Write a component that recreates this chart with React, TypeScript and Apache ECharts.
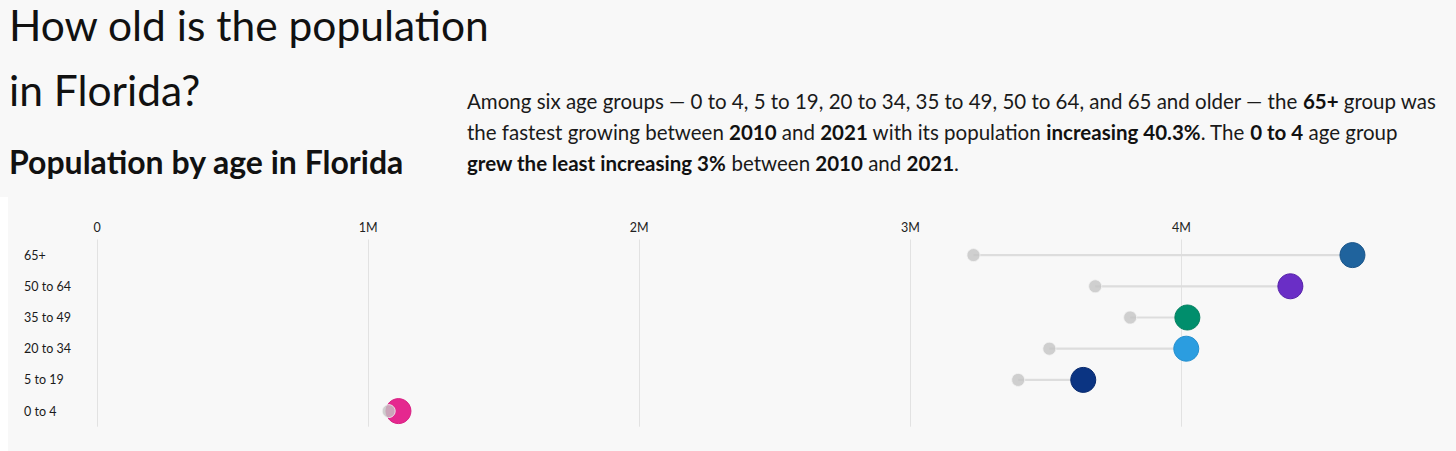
import React, { useEffect, useRef } from "react";
import * as echarts from "echarts";

const categories = ["0 to 4", "5 to 19", "20 to 34", "35 to 49", "50 to 64", "65+"];
const pop2010 = [1076000, 3398000, 3513000, 3811000, 3682000, 3233000];
const pop2021 = [1112000, 3638000, 4018000, 4022000, 4402000, 4631000];
const dotColors = ["#e5288f", "#0b3482", "#2b9de0", "#008e6c", "#6a2ec6", "#1f639d"];
const dotBorders = ["#d81f82", "#082a6e", "#2590cf", "#007f5e", "#5420a8", "#1a5589"];
const xTicks = [0, 1000000, 2000000, 3000000, 4000000];

const titleLines = ["How old is the population", "in Florida?"];
const subtitle = "Population by age in Florida";
const descLines = [
  "Among six age groups — 0 to 4, 5 to 19, 20 to 34, 35 to 49, 50 to 64, and 65 and older — the {b|65+} group was",
  "the fastest growing between {b|2010} and {b|2021} with its population {b|increasing 40.3%}. The {b|0 to 4} age group",
  "{b|grew the least increasing 3%} between {b|2010} and {b|2021}.",
];

const FONT = "Lato, 'Noto Sans', sans-serif";

function fmtTick(v: number): string {
  if (v === 0) return "0";
  if (v % 1000000 !== 0 || v > 4000000) return "";
  return v / 1000000 + "M";
}

export default function App() {
  const ref = useRef<HTMLDivElement>(null);
  useEffect(() => {
    document.body.style.margin = "0";
    document.body.style.background = "#ffffff";
    const chart = echarts.init(ref.current as HTMLDivElement, undefined, { renderer: "svg" });
    const descSize = 20.5;
    chart.setOption({
      animation: false,
      backgroundColor: "#f8f8f8",
      graphic: [
        { type: "rect", shape: { x: 0, y: 197, width: 8, height: 254 }, style: { fill: "#ffffff" }, silent: true },
        ...titleLines.map((t, i) => ({
          type: "text",
          x: 9,
          y: [24, 89][i],
          style: { text: t, fontSize: 42.5, fontFamily: FONT, fontWeight: "normal", fill: "#111111", verticalAlign: "middle", align: "left" },
        })),
        {
          type: "text",
          x: 9,
          y: 161,
          style: { text: subtitle, fontSize: 32, fontFamily: FONT, fontWeight: "bold", fill: "#111111", verticalAlign: "middle", align: "left" },
        },
        ...descLines.map((t, i) => ({
          type: "text",
          x: 467,
          y: [101, 132, 163][i],
          style: {
            text: t,
            fontSize: descSize,
            fontFamily: FONT,
            fill: "#1a1a1a",
            verticalAlign: "middle",
            align: "left",
            rich: { b: { fontSize: descSize, fontFamily: FONT, fontWeight: "bold", fill: "#111111" } },
          },
        })),
      ],
      grid: { left: 97, top: 239.5, width: 1355.5, height: 187.2, containLabel: false },
      xAxis: {
        type: "value",
        position: "top",
        min: 0,
        max: 5000000,
        interval: 1000000,
        axisLine: { show: false },
        axisTick: { show: false },
        splitLine: { show: false },
        axisLabel: {
          margin: 6,
          fontSize: 12.5,
          fontFamily: FONT,
          color: "#222222",
          formatter: fmtTick,
        },
      },
      yAxis: {
        type: "category",
        data: categories,
        axisLine: { show: false },
        axisTick: { show: false },
        splitLine: { show: false },
        axisLabel: { align: "left", margin: 73, fontSize: 12.5, fontFamily: FONT, color: "#1a1a1a" },
      },
      series: [
        {
          type: "custom",
          z: 1,
          silent: true,
          encode: { x: [0, 2], y: 1 },
          data: pop2010.map((v, i) => [v, i, pop2021[i]]),
          renderItem: (params: any, api: any) => {
            const a = api.coord([api.value(0), api.value(1)]);
            const b = api.coord([api.value(2), api.value(1)]);
            return {
              type: "line",
              shape: { x1: a[0], y1: a[1], x2: b[0], y2: b[1] },
              style: { stroke: "#dddddd", lineWidth: 2.2 },
            };
          },
          markLine: {
            silent: true,
            symbol: "none",
            label: { show: false },
            lineStyle: { color: "#e2e2e2", width: 1, type: "solid" },
            data: xTicks.map((v) => ({ xAxis: v })),
            z: 0,
          },
        },
        {
          type: "scatter",
          name: "2021",
          z: 3,
          symbolSize: 25,
          data: pop2021.map((v, i) => ({
            value: [v, categories[i]],
            itemStyle: { color: dotColors[i], borderColor: dotBorders[i], borderWidth: 1, opacity: 1 },
          })),
        },
        {
          type: "scatter",
          name: "2010",
          z: 4,
          symbolSize: 13,
          itemStyle: { color: "#c4c4c4", opacity: 0.8, borderColor: "#f4f4f4", borderWidth: 1 },
          data: pop2010.map((v, i) => [v, categories[i]]),
        },
      ],
    });
    return () => chart.dispose();
  }, []);
  return (
    <div style={{ width: 1456, height: 451, overflow: "hidden", position: "relative" }}>
      <div ref={ref} style={{ width: 1456, height: 451 }} />
    </div>
  );
}
